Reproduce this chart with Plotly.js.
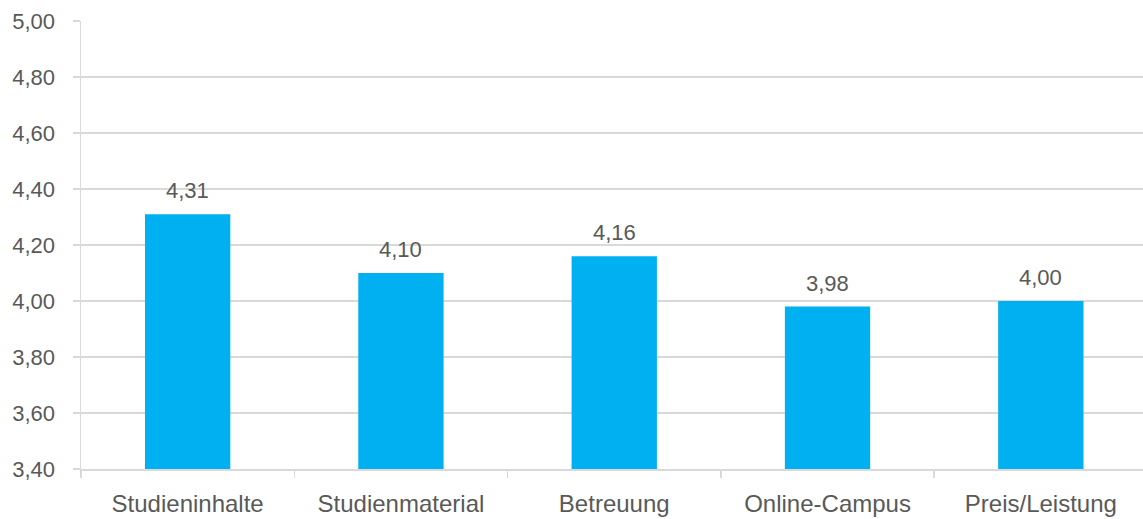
<!DOCTYPE html>
<html>
<head>
<meta charset="utf-8">
<script src="https://cdn.plot.ly/plotly-3.0.1.min.js"></script>
<style>html,body{margin:0;padding:0;background:#fff;}#chart{width:1143px;height:519px;}</style>
</head>
<body>
<div id="chart"></div>
<script>
const categories = ["Studieninhalte", "Studienmaterial", "Betreuung", "Online-Campus", "Preis/Leistung"];
const values = [4.31, 4.10, 4.16, 3.98, 4.00];
const yTicks = [3.4, 3.6, 3.8, 4.0, 4.2, 4.4, 4.6, 4.8, 5.0];

const fmt = v => v.toFixed(2).replace('.', ',');
const FONT = 'Liberation Sans, Arial, sans-serif';
const FS = 22;

const trace = {
  type: 'bar',
  x: categories,
  y: values,
  marker: {color: '#00B0F0'},
  width: 0.4,
  hoverinfo: 'none'
};

const annotations = categories.map((c, i) => ({
  x: c, y: values[i], xref: 'x', yref: 'y',
  text: fmt(values[i]), showarrow: false,
  yanchor: 'bottom', yshift: 9,
  font: {family: FONT, size: FS, color: '#595959'}
}));

const layout = {
  width: 1143, height: 519,
  margin: {l: 81, r: 0, t: 21, b: 50, pad: 0},
  paper_bgcolor: '#fff', plot_bgcolor: '#fff',
  separators: ',.',
  showlegend: false,
  font: {family: FONT, size: FS, color: '#595959'},
  xaxis: {
    type: 'category',
    range: [-0.5, 4.479],
    showgrid: false,
    showline: true, linecolor: '#d9d9d9', linewidth: 1.5,
    ticks: 'outside', tickson: 'boundaries', ticklen: 7, tickcolor: '#d9d9d9', tickwidth: 1.5,
    tickfont: {family: FONT, size: 24, color: '#595959'},
    ticklabelstandoff: 13,
    fixedrange: true
  },
  yaxis: {
    range: [3.4, 5.0],
    tickvals: yTicks,
    ticktext: yTicks.map(fmt),
    showgrid: true, gridcolor: '#d9d9d9', gridwidth: 1.5,
    zeroline: false,
    showline: true, linecolor: '#d9d9d9', linewidth: 1.5,
    ticks: 'outside', ticklen: 7, tickcolor: '#d9d9d9', tickwidth: 1.5,
    tickfont: {family: FONT, size: FS, color: '#595959'},
    ticklabelstandoff: 13,
    fixedrange: true
  },
  annotations: annotations
};

Plotly.newPlot('chart', [trace], layout, {staticPlot: true, displayModeBar: false});
</script>
</body>
</html>
